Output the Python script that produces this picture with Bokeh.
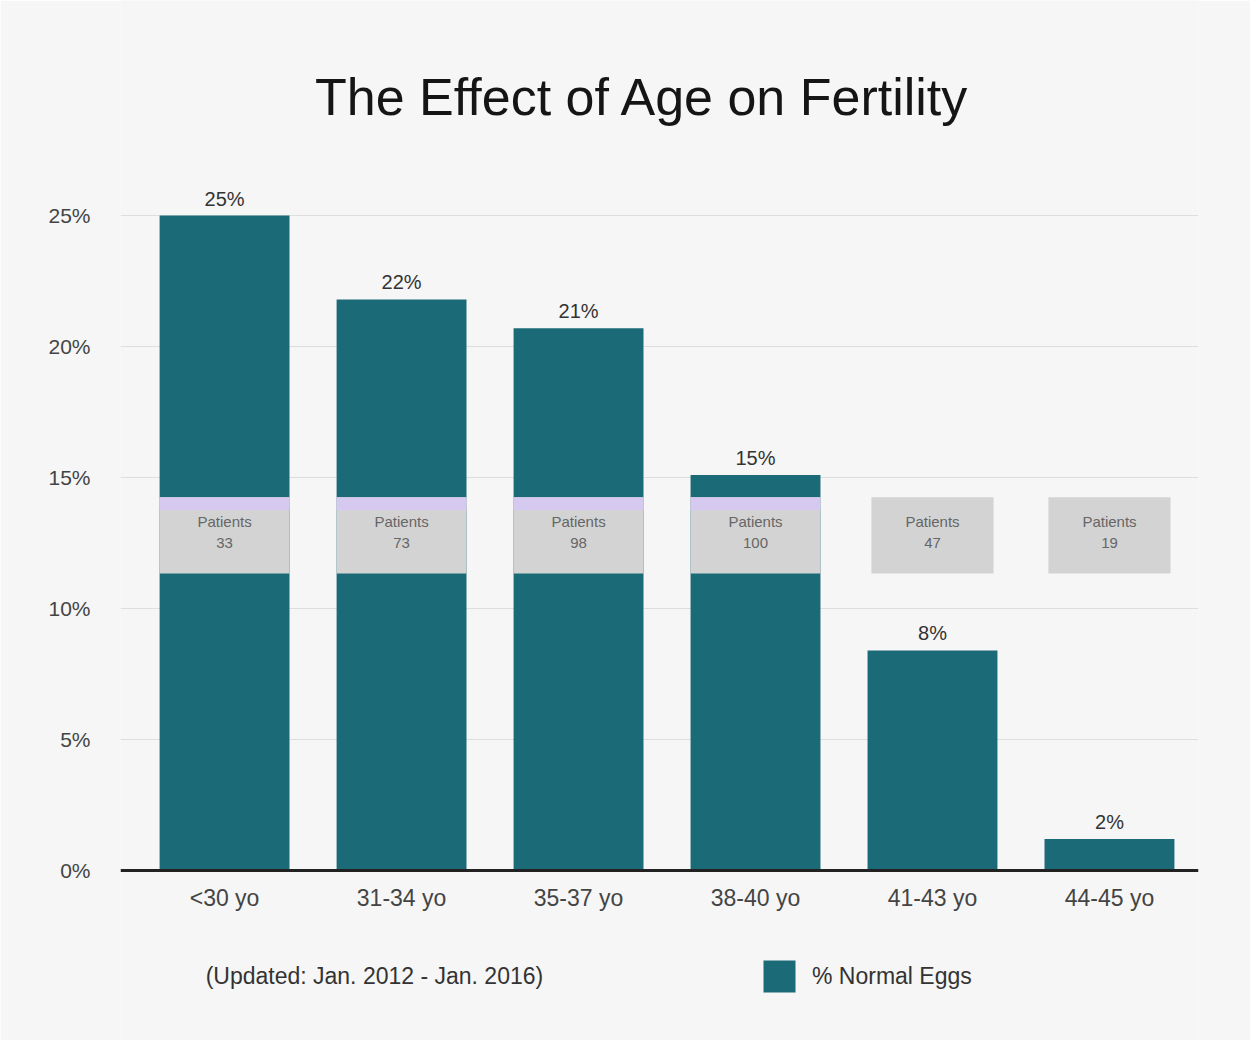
from bokeh.plotting import figure
from bokeh.models import (ColumnDataSource, FixedTicker, Label, Legend, LegendItem, Range1d, Span)
from bokeh.embed import file_html
from bokeh.resources import INLINE
from bokeh.core.properties import value

# ---- data ----
categories = ["<30 yo", "31-34 yo", "35-37 yo", "38-40 yo", "41-43 yo", "44-45 yo"]
normal_eggs = [25.0, 21.8, 20.7, 15.1, 8.4, 1.2]
value_labels = ["25%", "22%", "21%", "15%", "8%", "2%"]
patients = ["33", "73", "98", "100", "47", "19"]
y_ticks = [0, 5, 10, 15, 20, 25]
y_tick_labels = ["0%", "5%", "10%", "15%", "20%", "25%"]
title_text = "The Effect of Age on Fertility"
note_text = "(Updated: Jan. 2012 - Jan. 2016)"
series_name = "% Normal Eggs"

TEAL = "#1b6a77"
BG = "#f6f6f6"
FONT = "Liberation Sans"

xs = list(range(len(categories)))
BAR_W = 0.734
BOX_TOP, BOX_BOT, STRIP = 14.25, 11.34, 13.75

p = figure(width=1250, height=1040, output_backend="svg", toolbar_location=None,
           title=None,
           x_range=Range1d(-0.588, 5.503), y_range=Range1d(-6.49, 33.21),
           min_border_left=120, min_border_right=52, min_border_top=0,
           min_border_bottom=0)
p.background_fill_color = BG
p.border_fill_color = BG
p.outline_line_color = None

# grid
p.xgrid.grid_line_color = None
p.ygrid.grid_line_color = "#dedede"
p.ygrid.ticker = FixedTicker(ticks=y_ticks[1:])

src = ColumnDataSource(dict(x=xs, top=normal_eggs, lab=value_labels, cat=categories))
bars = p.vbar(x="x", top="top", width=BAR_W, source=src, fill_color=TEAL, line_color=None)

p.text(x="x", y="top", text="lab", source=src, text_align="center", text_baseline="bottom",
       y_offset=-6, text_font=value(FONT), text_font_size="20px", text_color="#333333")

# category labels under the baseline
p.text(x="x", y=0, text="cat", source=src, text_align="center", text_baseline="middle",
       y_offset=28, text_font=value(FONT), text_font_size="23px", text_color="#444444")

# baseline axis line
p.add_layout(Span(location=0, dimension="width", line_color="#222222", line_width=3))

# patient boxes
box_w = [BAR_W if v > BOX_TOP else 0.69 for v in normal_eggs]
bsrc = ColumnDataSource(dict(x=xs, w=box_w, pl=["Patients"] * len(xs), n=patients))
p.vbar(x="x", bottom=BOX_BOT, top=BOX_TOP, width="w", source=bsrc,
       fill_color="#d3d3d3", line_color=None)
strip_x = [x for x, v in zip(xs, normal_eggs) if v > BOX_TOP]
p.vbar(x=strip_x, bottom=STRIP, top=BOX_TOP, width=BAR_W, fill_color="#d6c9ef", line_color=None)
p.text(x="x", y=13.33, text="pl", source=bsrc, text_align="center", text_baseline="middle",
       text_font=value(FONT), text_font_size="15px", text_color="#666666")
p.text(x="x", y=12.49, text="n", source=bsrc, text_align="center", text_baseline="middle",
       text_font=value(FONT), text_font_size="15px", text_color="#666666")

# axes
p.xaxis.visible = False
p.yaxis.ticker = FixedTicker(ticks=y_ticks)
p.yaxis.major_label_overrides = {t: l for t, l in zip(y_ticks, y_tick_labels)}
p.yaxis.axis_line_color = None
p.yaxis.major_tick_line_color = None
p.yaxis.minor_tick_line_color = None
p.yaxis.major_label_standoff = 24
p.yaxis.major_label_text_font = FONT
p.yaxis.major_label_text_font_size = "21px"
p.yaxis.major_label_text_color = "#444444"

# title
p.add_layout(Label(x=2.362, y=29.53, text=title_text, text_align="center", text_baseline="middle",
                   text_font=FONT, text_font_size="52px", text_color="#151515"))
# note
p.add_layout(Label(x=-0.107, y=-4.01, text=note_text, text_align="left", text_baseline="middle",
                   text_font=FONT, text_font_size="23px", text_color="#333333"))

legend = Legend(items=[LegendItem(label=series_name, renderers=[bars])],
                location=(639, 44), orientation="horizontal",
                glyph_width=40, glyph_height=40, label_standoff=13,
                padding=0, margin=0, border_line_color=None,
                background_fill_alpha=0, label_text_font=FONT,
                label_text_font_size="23px", label_text_color="#333333")
p.add_layout(legend, "center")

open("out.html", "w").write(file_html(p, INLINE))
